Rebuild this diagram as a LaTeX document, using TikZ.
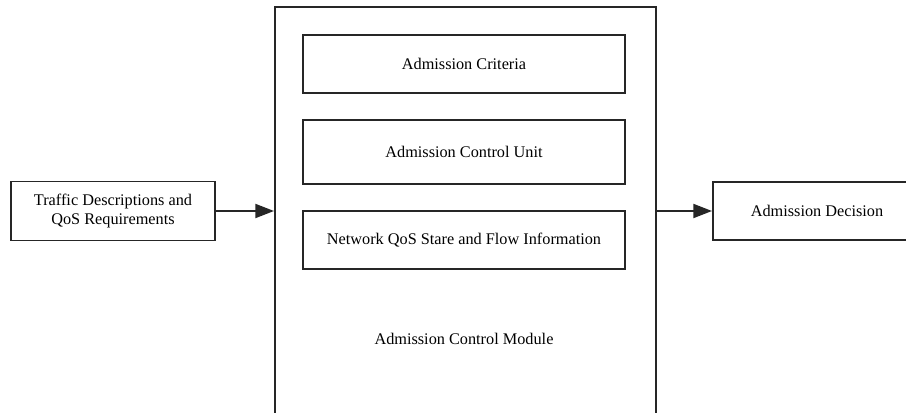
\documentclass[tikz,border=0pt]{standalone}
\usepackage{fontspec}
\setmainfont{Liberation Serif}
\usetikzlibrary{arrows.meta}
\begin{document}
\begin{tikzpicture}[x=0.75pt,y=-0.75pt,
  box/.style={draw=black!85,line width=1.4pt,inner sep=0pt,align=center,font=\fontsize{12.2pt}{14.5pt}\selectfont},
  lbl/.style={inner sep=0pt,font=\fontsize{12.2pt}{14.5pt}\selectfont},
  arr/.style={line width=1.4pt,draw=black!85,-{Triangle[length=14pt,width=10.5pt]}}]
\clip (0,0) rectangle (906,413);
\fill[white] (0,0) rectangle (906,413);
\node[box,minimum width=381*0.75pt,minimum height=430*0.75pt,anchor=north west] (module) at (274,6) {};
\node[box,minimum width=322*0.75pt,minimum height=58*0.75pt] (crit) at (464,64) {Admission Criteria};
\node[box,minimum width=322*0.75pt,minimum height=64*0.75pt] (unit) at (464,152) {Admission Control Unit};
\node[box,minimum width=322*0.75pt,minimum height=58*0.75pt] (net) at (464,240) {Network QoS Stare and Flow Information};
\node[lbl] (mlabel) at (464,339) {Admission Control Module};
\node[box,minimum width=204*0.75pt,minimum height=59*0.75pt] (traffic) at (113,211) {Traffic Descriptions and\\QoS Requirements};
\node[box,minimum width=210*0.75pt,minimum height=58*0.75pt,anchor=west] (dec) at (712,211) {};
\node[lbl] (dectext) at (817,211) {Admission Decision};
\draw[arr] (traffic.east) -- (traffic.east -| module.west);
\draw[arr] (traffic.east -| module.east) -- (dec.west);
\end{tikzpicture}
\end{document}
